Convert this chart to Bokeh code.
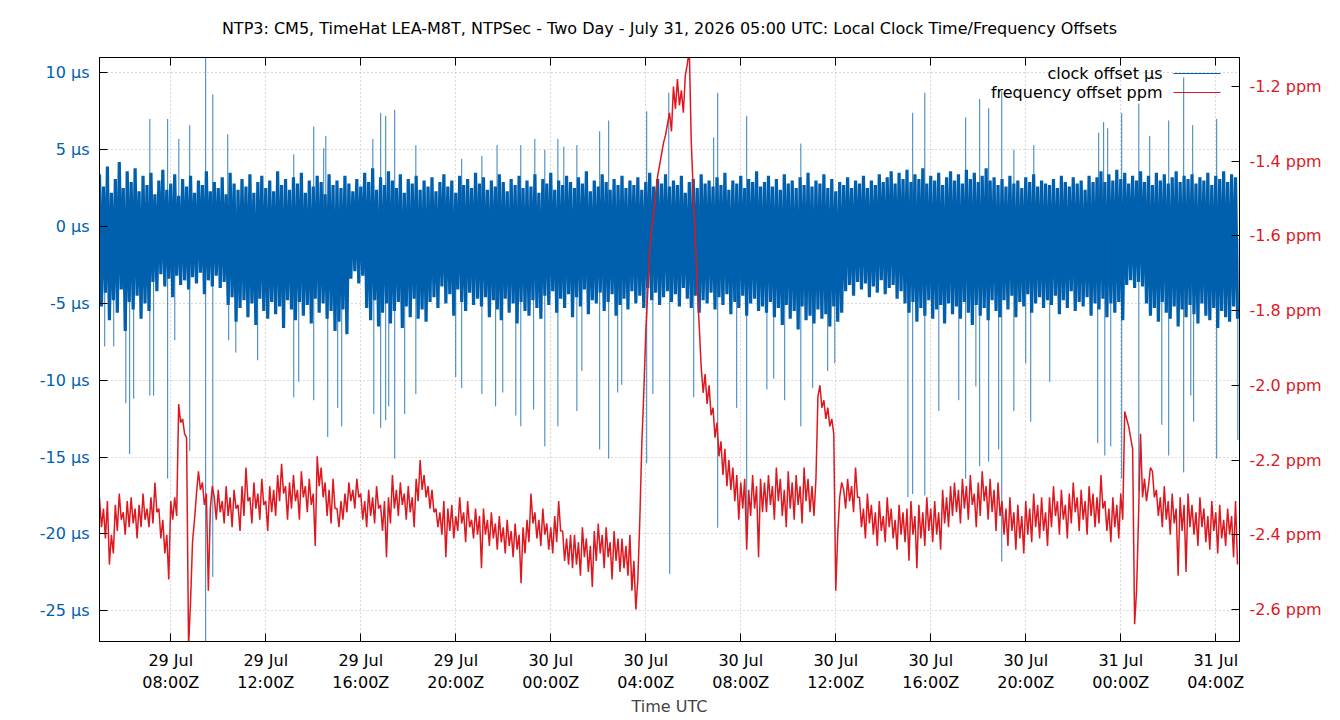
import numpy as np
from bokeh.plotting import figure
from bokeh.models import (Range1d, LinearAxis, FixedTicker, PrintfTickFormatter,
                          Label, BoxAnnotation)
from bokeh.embed import file_html
from bokeh.resources import INLINE

# ---------------- data ----------------
START = "2026-07-29T05:00"          # left edge of the chart (UTC)
SPAN_HOURS = 48
SLOT_MIN = 10                        # one hi/lo pair per 10-minute slot

TITLE = ("NTP3: CM5, TimeHat LEA-M8T, NTPSec - Two Day - July 31, 2026 05:00 UTC: "
         "Local Clock Time/Frequency Offsets")

# clock offset (µs): upper and lower excursion in each 10-minute slot
clock_hi = [
    3.4, 2.6, 3.9, 2.2, 3.1, 4.2, 2.5, 3.6, 2.9, 3.8, 2.3, 3.3,
    2.7, 3.5, 2.1, 3.0, 3.7, 2.4, 2.8, 3.4, 2.0, 3.1, 2.6, 3.3,
    2.2, 3.0, 2.7, 3.6, 2.3, 2.9, 2.5, 3.2, 2.1, 3.5, 2.8, 2.4,
    3.1, 2.6, 3.4, 2.2, 2.9, 3.3, 2.5, 3.0, 2.3, 3.6, 2.7, 3.1,
    2.4, 3.2, 2.8, 3.5, 2.2, 3.0, 2.6, 3.3, 2.9, 2.1, 3.4, 2.7,
    3.0, 2.5, 3.3, 2.8, 2.3, 3.1, 2.6, 3.5, 2.9, 3.8, 2.4, 3.2,
    2.7, 3.6, 3.0, 2.5, 3.4, 2.2, 3.1, 2.8, 3.3, 2.4, 3.0, 2.6,
    3.2, 2.3, 2.9, 3.4, 2.6, 3.0, 2.2, 3.3, 2.7, 3.1, 2.5, 3.5,
    2.8, 3.2, 2.4, 3.0, 2.6, 3.4, 2.9, 2.3, 3.1, 2.7, 3.3, 2.5,
    3.0, 2.6, 3.4, 2.2, 3.1, 2.8, 3.5, 2.4, 3.0, 2.7, 3.3, 2.9,
    2.5, 3.2, 2.8, 3.6, 2.3, 3.0, 2.6, 3.4, 2.9, 2.4, 3.1, 2.7,
    3.3, 2.5, 3.0, 2.7, 3.2, 2.4, 2.9, 3.5, 2.6, 3.1, 2.8, 3.4,
    2.6, 3.0, 2.7, 3.3, 2.2, 2.9, 3.1, 2.5, 3.4, 2.8, 3.0, 2.6,
    3.2, 2.7, 3.5, 2.4, 3.0, 2.8, 3.3, 2.5, 3.1, 2.9, 3.6, 2.6,
    2.9, 3.3, 2.6, 3.1, 2.4, 3.4, 2.8, 3.0, 2.5, 3.2, 2.7, 3.5,
    2.6, 3.0, 2.8, 3.4, 2.5, 3.1, 2.3, 2.9, 2.7, 3.2, 2.5, 3.0,
    2.8, 3.3, 2.5, 3.0, 2.7, 3.4, 2.9, 3.2, 3.6, 2.8, 3.5, 3.1,
    3.7, 2.9, 3.4, 3.1, 3.8, 2.8, 3.3, 3.0, 3.5, 2.7, 3.2, 3.6,
    3.0, 3.4, 2.8, 3.7, 3.1, 3.5, 2.9, 3.3, 3.8, 3.0, 3.2, 2.7,
    3.1, 2.6, 3.3, 2.8, 3.0, 2.5, 3.2, 2.9, 3.4, 2.6, 3.0, 2.8,
    2.7, 3.1, 2.5, 3.3, 2.9, 2.6, 3.2, 2.8, 3.0, 2.4, 3.3, 2.9,
    3.2, 3.6, 2.9, 3.4, 3.0, 3.7, 3.1, 3.5, 2.8, 3.3, 3.0, 3.6,
    2.9, 3.3, 2.7, 3.5, 3.0, 3.4, 2.8, 3.2, 3.6, 2.9, 3.3, 3.1,
    3.4, 2.8, 3.2, 3.0, 3.5, 2.7, 3.3, 3.1, 3.6, 2.9, 3.4, 3.2,
]
clock_lo = [
    -5.2, -4.3, -6.1, -4.8, -5.6, -4.1, -6.8, -4.9, -5.4, -4.5, -6.0, -5.0,
    -5.5, -3.6, -4.2, -3.1, -3.9, -3.4, -4.6, -3.2, -3.8, -3.5, -4.1, -3.3,
    -3.7, -3.0, -4.4, -3.5, -3.9, -3.2, -4.0, -3.6, -5.1, -4.6, -6.2, -5.3,
    -4.8, -5.9, -5.0, -6.4, -4.7, -5.5, -6.0, -4.9, -5.7, -5.2, -6.6, -4.8,
    -5.4, -6.1, -4.9, -5.8, -5.1, -6.3, -4.7, -5.6, -5.0, -6.0, -5.5, -6.8,
    -6.2, -5.4, -7.0, -3.4, -2.9, -3.7, -3.2, -5.3, -6.1, -4.8, -6.5, -5.6,
    -5.0, -6.3, -5.5, -4.9, -6.6, -5.2, -5.9, -4.7, -6.0, -5.4, -6.2, -4.9,
    -4.6, -5.3, -3.9, -5.0, -4.4, -5.8, -4.1, -4.9, -5.5, -4.3, -5.1, -4.7,
    -5.2, -4.6, -5.9, -4.8, -5.4, -6.1, -4.7, -5.6, -5.0, -6.3, -4.9, -5.5,
    -5.8, -4.8, -5.3, -6.0, -4.5, -5.1, -4.2, -5.6, -4.7, -5.3, -4.4, -5.9,
    -4.6, -5.2, -4.1, -5.7, -4.8, -5.0, -4.3, -5.5, -4.9, -4.4, -5.8, -5.1,
    -4.7, -5.4, -4.2, -5.0, -4.5, -5.3, -4.0, -4.8, -4.3, -5.1, -4.6, -4.2,
    -4.9, -4.4, -5.2, -4.0, -4.7, -5.3, -4.5, -5.6, -4.8, -5.0, -4.3, -5.4,
    -4.6, -5.1, -4.4, -5.7, -4.9, -5.3, -4.5, -5.8, -5.0, -4.7, -5.5, -5.2,
    -5.6, -4.9, -5.9, -5.3, -6.4, -5.1, -6.0, -5.5, -6.7, -5.2, -6.1, -5.8,
    -6.3, -5.4, -6.0, -5.7, -6.5, -5.2, -6.2, -5.6, -4.2, -3.8, -4.5, -3.6,
    -4.1, -3.7, -4.6, -3.9, -4.3, -3.5, -4.4, -4.0, -3.8, -4.7, -4.2, -5.0,
    -5.6, -4.9, -6.2, -5.3, -5.8, -4.8, -6.0, -5.4, -5.1, -6.3, -5.0, -5.7,
    -5.2, -6.0, -4.9, -5.6, -6.4, -5.1, -5.8, -5.3, -6.1, -4.8, -5.5, -5.9,
    -4.8, -5.4, -4.5, -5.9, -4.9, -5.2, -4.4, -5.6, -5.0, -4.6, -5.3, -4.8,
    -5.1, -4.5, -5.7, -4.8, -5.3, -4.2, -5.5, -4.9, -5.2, -4.6, -5.8, -5.0,
    -5.4, -4.7, -5.9, -5.0, -5.6, -4.9, -6.1, -3.8, -3.5, -4.0, -3.6, -3.9,
    -5.0, -5.8, -5.3, -6.2, -4.9, -5.6, -6.0, -5.2, -6.5, -5.4, -5.9, -5.1,
    -5.7, -6.3, -5.0, -5.8, -6.1, -5.3, -6.6, -5.5, -5.9, -6.2, -5.2, -6.0,
]

# isolated clock-offset spikes: hours after START, value in µs
spike_up_h = [2.12, 2.87, 3.34, 3.80, 4.47, 4.77, 5.40, 8.18, 9.02, 9.44, 9.53,
              11.51, 11.84, 12.05, 12.43, 13.32, 15.25, 16.10, 16.74, 17.74,
              18.33, 18.75, 19.30, 19.55, 20.10, 21.06, 21.44, 23.04, 23.97,
              25.86, 26.03, 27.25, 29.53, 34.24, 34.75, 36.47, 37.06, 37.44,
              37.99, 38.50, 39.34, 42.07, 42.28, 42.45, 43.04, 43.76, 44.22,
              45.02, 45.65, 46.03, 47.04]
spike_up_v = [7.0, 7.0, 5.7, 6.6, 12.0, 8.6, 6.0, 4.7, 6.5, 5.1, 5.9,
              5.7, 7.4, 7.2, 7.6, 5.3, 4.4, 4.6, 5.3, 5.3,
              5.7, 5.0, 5.7, 5.2, 5.3, 6.2, 6.9, 7.5, 8.7,
              5.8, 8.7, 7.2, 5.4, 7.4, 8.7, 7.1, 8.3, 7.7,
              8.8, 5.0, 5.3, 6.1, 6.8, 6.4, 7.4, 8.0, 5.9,
              6.9, 9.7, 6.6, 7.0]
spike_dn_h = [0.22, 0.60, 1.11, 1.27, 1.44, 2.12, 2.28, 2.87, 3.17, 3.80, 4.47,
              4.77, 5.44, 5.74, 6.66, 8.18, 8.39, 9.02, 9.61, 10.03, 10.20,
              11.55, 11.84, 12.05, 12.18, 12.43, 12.85, 13.32, 15.00, 15.25,
              16.10, 16.68, 16.98, 17.53, 17.74, 18.28, 18.75, 19.30, 20.10,
              20.31, 21.06, 21.44, 21.82, 21.99, 23.04, 23.30, 24.01, 25.02,
              26.03, 26.83, 27.25, 28.10, 28.39, 28.85, 29.53, 30.03, 30.66,
              30.96, 34.04, 34.24, 34.75, 35.34, 36.18, 36.47, 36.90, 37.06,
              37.44, 37.86, 37.99, 38.50, 39.00, 39.21, 40.01, 42.03, 42.33,
              42.58, 43.04, 43.76, 44.73, 45.02, 45.65, 45.95, 46.07, 47.04,
              47.93]
spike_dn_v = [-7.8, -7.8, -11.5, -14.8, -11.2, -11.0, -11.0, -16.4, -7.4, -14.6, -28.0,
              -22.8, -7.4, -8.2, -8.7, -11.1, -10.1, -11.3, -13.7, -11.8, -13.0,
              -12.2, -13.1, -12.6, -11.7, -15.1, -12.2, -10.9, -9.8, -10.5,
              -10.9, -11.7, -10.8, -12.3, -13.0, -11.9, -14.3, -13.0, -12.0,
              -9.4, -14.5, -15.1, -10.8, -10.3, -15.4, -10.9, -22.6, -11.1,
              -19.6, -11.8, -20.0, -10.6, -9.9, -11.3, -13.0, -10.5, -9.4,
              -8.9, -17.6, -17.4, -17.5, -12.0, -11.3, -16.4, -10.4, -15.6,
              -15.3, -14.5, -21.8, -12.0, -8.9, -12.7, -10.1, -14.1, -14.9,
              -14.3, -16.4, -17.2, -12.9, -14.9, -16.0, -11.0, -12.7, -15.1,
              -13.9]

# frequency offset (ppm): first and second reading of each 10-minute slot
freq_a = [
    -2.30, -2.33, -2.31, -2.40, -2.32, -2.29, -2.34, -2.31, -2.30, -2.33, -2.32, -2.29,
    -2.33, -2.30, -2.26, -2.33, -2.36, -2.40, -2.31, -2.30, -2.05, -2.09, -2.14, -2.58,
    -2.36, -2.23, -2.26, -2.29, -2.33, -2.30, -2.28, -2.31, -2.27, -2.30, -2.28, -2.32,
    -2.27, -2.22, -2.30, -2.26, -2.29, -2.25, -2.31, -2.27, -2.28, -2.24, -2.21, -2.27,
    -2.26, -2.24, -2.28, -2.23, -2.27, -2.25, -2.29, -2.19, -2.22, -2.26, -2.28, -2.25,
    -2.33, -2.31, -2.29, -2.26, -2.28, -2.25, -2.29, -2.31, -2.28, -2.30, -2.27, -2.32,
    -2.31, -2.30, -2.24, -2.28, -2.26, -2.29, -2.27, -2.30, -2.25, -2.20, -2.24, -2.27,
    -2.28, -2.33, -2.34, -2.31, -2.33, -2.32, -2.35, -2.30, -2.34, -2.31, -2.36, -2.33,
    -2.35, -2.33, -2.36, -2.34, -2.37, -2.35, -2.38, -2.36, -2.39, -2.37, -2.40, -2.38,
    -2.36, -2.29, -2.34, -2.36, -2.33, -2.37, -2.38, -2.35, -2.31, -2.39, -2.41, -2.40,
    -2.40, -2.42, -2.38, -2.41, -2.43, -2.39, -2.37, -2.40, -2.38, -2.42, -2.39, -2.41,
    -2.41, -2.43, -2.40, -2.47, -2.52, -2.16, -1.86, -1.64, -1.54, -1.44, -1.38, -1.33,
    -1.27, -1.20, -1.18, -1.21, -1.17, -1.10, -1.48, -1.73, -1.95, -1.97, -2.00, -2.06,
    -2.10, -2.15, -2.17, -2.20, -2.22, -2.24, -2.26, -2.25, -2.28, -2.24, -2.27, -2.25,
    -2.26, -2.24, -2.27, -2.22, -2.25, -2.28, -2.23, -2.26, -2.24, -2.27, -2.22, -2.25,
    -2.27, -2.25, -2.00, -2.04, -2.06, -2.09, -2.55, -2.30, -2.28, -2.25, -2.27, -2.22,
    -2.30, -2.33, -2.29, -2.32, -2.34, -2.31, -2.35, -2.30, -2.33, -2.36, -2.32, -2.34,
    -2.33, -2.31, -2.35, -2.32, -2.34, -2.30, -2.33, -2.31, -2.34, -2.28, -2.30, -2.27,
    -2.26, -2.28, -2.25, -2.27, -2.24, -2.29, -2.26, -2.23, -2.27, -2.25, -2.28, -2.26,
    -2.31, -2.33, -2.30, -2.34, -2.32, -2.35, -2.31, -2.33, -2.29, -2.32, -2.30, -2.34,
    -2.30, -2.27, -2.31, -2.28, -2.32, -2.29, -2.26, -2.30, -2.28, -2.31, -2.27, -2.29,
    -2.30, -2.24, -2.31, -2.33, -2.30, -2.32, -2.29, -2.07, -2.11, -2.17, -2.55, -2.13,
    -2.25, -2.27, -2.23, -2.28, -2.30, -2.27, -2.31, -2.29, -2.33, -2.30, -2.32, -2.29,
    -2.32, -2.34, -2.30, -2.33, -2.35, -2.31, -2.34, -2.32, -2.36, -2.33, -2.35, -2.31,
]
freq_b = [
    -2.38, -2.41, -2.48, -2.45, -2.39, -2.36, -2.40, -2.38, -2.37, -2.41, -2.38, -2.36,
    -2.38, -2.37, -2.34, -2.41, -2.45, -2.52, -2.36, -2.35, -2.10, -2.13, -2.70, -2.42,
    -2.29, -2.28, -2.32, -2.55, -2.27, -2.36, -2.34, -2.37, -2.35, -2.38, -2.33, -2.39,
    -2.35, -2.31, -2.37, -2.33, -2.36, -2.32, -2.39, -2.34, -2.35, -2.31, -2.29, -2.36,
    -2.33, -2.31, -2.36, -2.30, -2.34, -2.32, -2.43, -2.27, -2.30, -2.35, -2.37, -2.33,
    -2.38, -2.36, -2.34, -2.31, -2.33, -2.30, -2.36, -2.38, -2.35, -2.37, -2.33, -2.39,
    -2.46, -2.37, -2.33, -2.35, -2.32, -2.36, -2.34, -2.38, -2.31, -2.28, -2.30, -2.33,
    -2.34, -2.38, -2.40, -2.46, -2.39, -2.41, -2.39, -2.37, -2.42, -2.38, -2.41, -2.40,
    -2.49, -2.40, -2.43, -2.41, -2.44, -2.42, -2.45, -2.43, -2.46, -2.44, -2.53, -2.45,
    -2.42, -2.37, -2.41, -2.43, -2.40, -2.44, -2.45, -2.42, -2.39, -2.47, -2.48, -2.49,
    -2.48, -2.51, -2.46, -2.50, -2.54, -2.47, -2.45, -2.49, -2.46, -2.52, -2.47, -2.50,
    -2.49, -2.51, -2.55, -2.60, -2.36, -2.02, -1.75, -1.58, -1.49, -1.41, -1.35, -1.30,
    -1.32, -1.26, -1.25, -1.27, -1.14, -1.35, -1.60, -1.84, -2.02, -2.05, -2.08, -2.14,
    -2.19, -2.24, -2.27, -2.28, -2.31, -2.36, -2.33, -2.44, -2.35, -2.33, -2.46, -2.34,
    -2.34, -2.32, -2.36, -2.31, -2.35, -2.38, -2.33, -2.36, -2.32, -2.37, -2.31, -2.34,
    -2.35, -2.03, -2.06, -2.09, -2.11, -2.13, -2.40, -2.26, -2.33, -2.31, -2.34, -2.30,
    -2.38, -2.41, -2.37, -2.40, -2.43, -2.39, -2.42, -2.38, -2.41, -2.44, -2.40, -2.42,
    -2.47, -2.40, -2.49, -2.41, -2.43, -2.39, -2.42, -2.40, -2.44, -2.37, -2.38, -2.35,
    -2.34, -2.37, -2.33, -2.36, -2.32, -2.38, -2.35, -2.31, -2.36, -2.34, -2.39, -2.35,
    -2.40, -2.43, -2.39, -2.44, -2.41, -2.45, -2.40, -2.42, -2.38, -2.41, -2.39, -2.43,
    -2.38, -2.35, -2.40, -2.36, -2.41, -2.37, -2.34, -2.39, -2.36, -2.40, -2.35, -2.38,
    -2.37, -2.33, -2.39, -2.42, -2.38, -2.41, -2.36, -2.09, -2.14, -2.64, -2.35, -2.30,
    -2.31, -2.22, -2.30, -2.35, -2.38, -2.36, -2.40, -2.37, -2.51, -2.39, -2.50, -2.38,
    -2.40, -2.43, -2.38, -2.42, -2.44, -2.39, -2.45, -2.41, -2.43, -2.40, -2.46, -2.48,
]

x_tick_hours = [3, 7, 11, 15, 19, 23, 27, 31, 35, 39, 43, 47]
x_tick_labels = ["29 Jul\n08:00Z", "29 Jul\n12:00Z", "29 Jul\n16:00Z", "29 Jul\n20:00Z",
                 "30 Jul\n00:00Z", "30 Jul\n04:00Z", "30 Jul\n08:00Z", "30 Jul\n12:00Z",
                 "30 Jul\n16:00Z", "30 Jul\n20:00Z", "31 Jul\n00:00Z", "31 Jul\n04:00Z"]
us_ticks = [-25, -20, -15, -10, -5, 0, 5, 10]
ppm_ticks = [-2.6, -2.4, -2.2, -2.0, -1.8, -1.6, -1.4, -1.2]
US_RANGE = (-27, 11)
PPM_RANGE = (-2.686, -1.122)

# ---------------- build ----------------
BLUE = "#0060ad"
RED = "#dd181f"
FONT = "DejaVu Sans"
FS = "16px"

HOUR_MS = 3600 * 1000
base_ms = int(np.datetime64(START, "ms").astype(np.int64))


def to_ms(hours):
    return base_ms + np.asarray(hours, dtype=float) * HOUR_MS


n = len(clock_hi)
slot_h = np.arange(n) * SLOT_MIN / 60.0
half = SLOT_MIN / 120.0
pair_h = np.column_stack([slot_h, slot_h + half]).ravel()
clock_y = np.column_stack([clock_hi, clock_lo]).ravel()
freq_y = np.column_stack([freq_a, freq_b]).ravel()
x_pairs = to_ms(pair_h)

FRAME_LEFT, FRAME_TOP, FRAME_RIGHT, FRAME_BOTTOM = 99, 57, 1239, 641

p = figure(width=1340, height=720, output_backend="svg", toolbar_location=None,
           title=None, x_axis_type="datetime",
           x_range=Range1d(base_ms, base_ms + SPAN_HOURS * HOUR_MS),
           y_range=Range1d(*US_RANGE),
           min_border_left=FRAME_LEFT, min_border_right=1340 - FRAME_RIGHT,
           min_border_top=FRAME_TOP, min_border_bottom=720 - FRAME_BOTTOM)
p.extra_y_ranges = {"ppm": Range1d(*PPM_RANGE)}

p.outline_line_color = "black"
p.outline_line_width = 1
p.background_fill_color = "white"
p.border_fill_color = "white"

# clock offset band and spikes
p.line(x_pairs, clock_y, line_color=BLUE, line_width=3.2)
up_x = to_ms(spike_up_h)
dn_x = to_ms(spike_dn_h)
base_us = -0.8
p.segment(x0=up_x, y0=[base_us] * len(up_x), x1=up_x, y1=spike_up_v,
          line_color=BLUE, line_width=1, line_alpha=0.8)
p.segment(x0=dn_x, y0=[base_us] * len(dn_x), x1=dn_x, y1=spike_dn_v,
          line_color=BLUE, line_width=1, line_alpha=0.8)

# frequency offset
p.line(x_pairs, freq_y, line_color=RED, line_width=1.5, y_range_name="ppm")

# x axis
xticks_ms = [int(v) for v in to_ms(x_tick_hours)]
xt = FixedTicker(ticks=xticks_ms)
xa = p.xaxis[0]
xa.ticker = xt
xa.major_label_overrides = {t: lab for t, lab in zip(xticks_ms, x_tick_labels)}
xa.axis_label = "Time UTC"
xa.axis_label_text_font = FONT
xa.axis_label_text_font_size = FS
xa.axis_label_text_font_style = "normal"
xa.axis_label_standoff = 2
xa.major_label_text_font = FONT
xa.major_label_text_font_size = FS
xa.major_label_text_color = "black"
xa.major_label_standoff = 9
xa.major_tick_in = 8
xa.major_tick_out = 0
xa.minor_tick_in = 0
xa.minor_tick_out = 0
xa.axis_line_color = "black"

# mirrored ticks on the top border; its axis label carries the chart title
top = LinearAxis(ticker=FixedTicker(ticks=xticks_ms), major_tick_in=8, major_tick_out=0,
                 minor_tick_in=0, minor_tick_out=0, axis_line_color="black",
                 major_label_overrides={t: "" for t in xticks_ms},
                 major_label_standoff=0,
                 axis_label=TITLE, axis_label_text_font=FONT,
                 axis_label_text_font_size=FS, axis_label_text_font_style="normal",
                 axis_label_text_color="black", axis_label_standoff=20)
p.add_layout(top, "above")

# left axis (µs)
ya = p.yaxis[0]
ya.ticker = FixedTicker(ticks=us_ticks)
ya.formatter = PrintfTickFormatter(format="%d µs")
ya.major_label_text_font = FONT
ya.major_label_text_font_size = FS
ya.major_label_text_color = BLUE
ya.major_label_standoff = 10
ya.major_tick_in = 8
ya.major_tick_out = 0
ya.minor_tick_in = 0
ya.minor_tick_out = 0
ya.axis_line_color = "black"

# right axis (ppm)
ra = LinearAxis(y_range_name="ppm", ticker=FixedTicker(ticks=ppm_ticks),
                formatter=PrintfTickFormatter(format="%.1f ppm"),
                major_label_text_font=FONT, major_label_text_font_size=FS,
                major_label_text_color=RED, major_label_standoff=10,
                major_tick_in=8, major_tick_out=0, minor_tick_in=0, minor_tick_out=0,
                axis_line_color="black")
p.add_layout(ra, "right")

# grid
p.xgrid.ticker = xt
for g in (p.xgrid[0], p.ygrid[0]):
    g.grid_line_color = "#b4b4b4"
    g.grid_line_dash = "1 3"
    g.grid_line_width = 1

# legend (text, then line sample, like the original); screen units are
# measured from the frame's lower-left corner
leg_items = [("clock offset µs", BLUE), ("frequency offset ppm", RED)]
for i, (txt, col) in enumerate(leg_items):
    y_screen = FRAME_BOTTOM - 73 - i * 19
    p.add_layout(Label(x=1162 - FRAME_LEFT, y=y_screen, x_units="screen", y_units="screen",
                       text=txt, text_align="right", text_baseline="middle",
                       text_font=FONT, text_font_size=FS, text_color="black"))
    p.add_layout(BoxAnnotation(left=1173 - FRAME_LEFT, right=1220 - FRAME_LEFT,
                               bottom=y_screen - 0.5, top=y_screen + 0.5,
                               left_units="screen", right_units="screen",
                               bottom_units="screen", top_units="screen",
                               fill_color=col, fill_alpha=1, line_color=None))

open("out.html", "w").write(file_html(p, INLINE))
